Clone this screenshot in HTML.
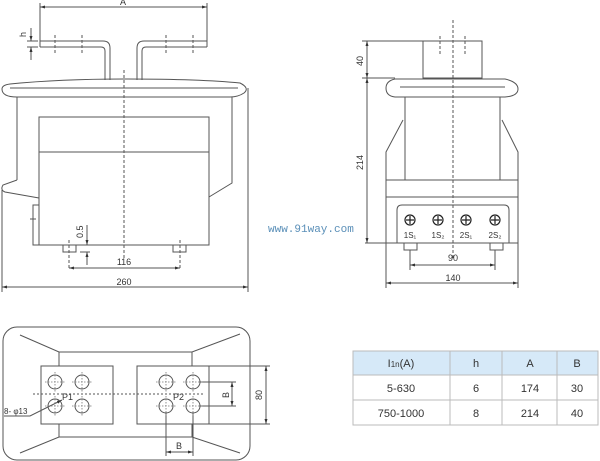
<!DOCTYPE html>
<html><head><meta charset="utf-8"><style>
html,body{margin:0;padding:0;background:#fff;}
svg{display:block;font-family:"Liberation Sans",sans-serif;}
</style></head><body>
<svg width="600" height="461" viewBox="0 0 600 461" xmlns="http://www.w3.org/2000/svg">
<defs>
<marker id="ar" viewBox="0 0 10 10" refX="10" refY="5" markerWidth="7" markerHeight="5" orient="auto-start-reverse"><path d="M0,2 L10,5 L0,8 z" fill="#333"/></marker>
<g id="hole"><circle r="7" fill="none" stroke="#555"/><path d="M-10,0H10M0,-10V10" stroke="#777" stroke-width="0.8" stroke-dasharray="1.5,1.5"/></g>
</defs>
<g stroke="#555" stroke-width="1" fill="none">
<line x1="40" y1="3" x2="40" y2="47"/><line x1="207" y1="3" x2="207" y2="47"/>
<line x1="40" y1="7" x2="207" y2="7" marker-start="url(#ar)" marker-end="url(#ar)"/>
<path d="M40,41 H103 Q110,41 110,48 V80 M40,47 H101 Q105,47 105,51 V80"/>
<path d="M207,41 H144 Q137,41 137,48 V80 M207,47 H146 Q142,47 142,51 V80"/>
<g stroke-dasharray="3,2"><line x1="55" y1="35" x2="55" y2="53"/><line x1="82" y1="35" x2="82" y2="53"/><line x1="166" y1="35" x2="166" y2="53"/><line x1="193" y1="35" x2="193" y2="53"/></g>
<line x1="27" y1="41" x2="38" y2="41"/><line x1="27" y1="47" x2="38" y2="47"/>
<line x1="31" y1="28" x2="31" y2="41" marker-end="url(#ar)"/><line x1="31" y1="60" x2="31" y2="47" marker-end="url(#ar)"/>
<path d="M10,84 Q60,79 124,79 Q200,79 240,83 Q250,88 244,93 Q238,97 230,97 H17 Q2,97 2,89 Q2,85 10,84 Z"/>
<line x1="10" y1="88" x2="238" y2="88"/>
<path d="M17,97 V180 M232,97 V183 L209,197"/>
<path d="M17,180 L3,185 Q0,190 5,192 L39,198"/>
<rect x="39" y="117" width="170" height="128"/>
<line x1="39" y1="152" x2="209" y2="152"/>
<path d="M39,205 H33 V245 H39 M30,219 H36"/>
<rect x="63" y="245" width="13" height="7"/><rect x="173" y="245" width="13" height="7"/>
<line x1="124" y1="70" x2="124" y2="258" stroke-dasharray="3,2"/>
<line x1="69" y1="240" x2="69" y2="270" stroke-dasharray="3,2"/><line x1="180" y1="240" x2="180" y2="270" stroke-dasharray="3,2"/>
<line x1="69" y1="268" x2="180" y2="268" marker-start="url(#ar)" marker-end="url(#ar)"/>
<line x1="87" y1="225" x2="87" y2="245" marker-end="url(#ar)"/><line x1="87" y1="265" x2="87" y2="252" marker-end="url(#ar)"/>
<line x1="80" y1="252" x2="90" y2="252"/>
<line x1="2" y1="190" x2="2" y2="292"/><line x1="248" y1="88" x2="248" y2="292"/>
<line x1="2" y1="287" x2="248" y2="287" marker-start="url(#ar)" marker-end="url(#ar)"/>
<rect x="423" y="41" width="59" height="37"/>
<g stroke-dasharray="3,2"><line x1="440" y1="36" x2="440" y2="55"/><line x1="465" y1="36" x2="465" y2="55"/></g>
<path d="M395,79 H505 Q518,82 518,89 Q518,96 505,97 H395 Q386,96 386,88 Q386,81 395,79 Z"/>
<line x1="400" y1="87" x2="505" y2="87"/>
<path d="M405,97 V180 M500,97 V180"/>
<path d="M403,120 L386,152 V243 M502,120 L518,152 V243"/>
<line x1="386" y1="180" x2="518" y2="180"/><line x1="386" y1="197" x2="518" y2="197"/>
<path d="M402,205 H504 Q509,205 509,210 V243 H397 V210 Q397,205 402,205 Z"/>
<line x1="365" y1="243" x2="518" y2="243"/>
<rect x="404" y="243" width="13" height="7"/><rect x="490" y="243" width="13" height="7"/>
<line x1="453" y1="20" x2="453" y2="258" stroke-dasharray="3,2"/>
<line x1="362" y1="41" x2="423" y2="41"/><line x1="362" y1="78" x2="395" y2="78"/>
<line x1="367" y1="41" x2="367" y2="78" marker-start="url(#ar)" marker-end="url(#ar)"/>
<line x1="367" y1="78" x2="367" y2="243" marker-start="url(#ar)" marker-end="url(#ar)"/>
<line x1="410" y1="250" x2="410" y2="270"/><line x1="495" y1="250" x2="495" y2="270"/>
<line x1="410" y1="265" x2="495" y2="265" marker-start="url(#ar)" marker-end="url(#ar)"/>
<line x1="386" y1="243" x2="386" y2="288"/><line x1="518" y1="243" x2="518" y2="288"/>
<line x1="386" y1="283" x2="518" y2="283" marker-start="url(#ar)" marker-end="url(#ar)"/>
<rect x="3" y="327" width="247" height="133" rx="14"/>
<path d="M20,335 L59,352 H192 L240,334 M20,453 L59,437 H192 L240,453"/>
<path d="M59,352 V366 M192,352 V366 M59,424 V437 M192,424 V437"/>
<rect x="41" y="366" width="72" height="58"/><rect x="137" y="366" width="72" height="58"/>
<line x1="33" y1="394" x2="204" y2="394" stroke-dasharray="2,2"/>
<line x1="209" y1="366" x2="270" y2="366"/><line x1="209" y1="424" x2="270" y2="424"/>
<line x1="266" y1="366" x2="266" y2="424" marker-start="url(#ar)" marker-end="url(#ar)"/>
<line x1="200" y1="382" x2="236" y2="382"/><line x1="200" y1="406" x2="236" y2="406"/>
<line x1="232" y1="382" x2="232" y2="406" marker-start="url(#ar)" marker-end="url(#ar)"/>
<line x1="166" y1="413" x2="166" y2="456"/><line x1="193" y1="413" x2="193" y2="456"/>
<line x1="166" y1="452" x2="193" y2="452" marker-start="url(#ar)" marker-end="url(#ar)"/>
<path d="M4,416 H30 L62,400" marker-end="url(#ar)"/>
</g>
<use href="#hole" x="55" y="382"/><use href="#hole" x="82" y="382"/><use href="#hole" x="55" y="406"/><use href="#hole" x="82" y="406"/>
<use href="#hole" x="166" y="382"/><use href="#hole" x="193" y="382"/><use href="#hole" x="166" y="406"/><use href="#hole" x="193" y="406"/>
<g stroke="#222" stroke-width="1.2">
<circle cx="410" cy="220" r="5" fill="none"/><path d="M406,220H414M410,216V224"/>
<circle cx="438" cy="220" r="5" fill="none"/><path d="M434,220H442M438,216V224"/>
<circle cx="466" cy="220" r="5" fill="none"/><path d="M462,220H470M466,216V224"/>
<circle cx="495" cy="220" r="5" fill="none"/><path d="M491,220H499M495,216V224"/>
</g>
<g fill="#333" font-size="9">
<text x="123" y="5" text-anchor="middle">A</text>
<text x="124" y="265" text-anchor="middle">116</text>
<text x="124" y="285" text-anchor="middle">260</text>
<text transform="translate(26,37) rotate(-90)">h</text>
<text transform="translate(83,238) rotate(-90)">0.5</text>
<text x="453" y="261" text-anchor="middle">90</text>
<text x="453" y="281" text-anchor="middle">140</text>
<text transform="translate(363,66) rotate(-90)">40</text>
<text transform="translate(363,170) rotate(-90)">214</text>
<text x="410" y="238" text-anchor="middle" font-size="8">1S₁</text>
<text x="438" y="238" text-anchor="middle" font-size="8">1S₂</text>
<text x="466" y="238" text-anchor="middle" font-size="8">2S₁</text>
<text x="495" y="238" text-anchor="middle" font-size="8">2S₂</text>
<text x="62" y="400">P1</text>
<text x="173" y="400">P2</text>
<text x="4" y="414" font-size="8">8- φ13</text>
<text transform="translate(262,400) rotate(-90)">80</text>
<text transform="translate(229,398) rotate(-90)">B</text>
<text x="176" y="449">B</text>
<text x="268" y="232" fill="#5a8fb8" font-size="11" font-family="Liberation Mono,monospace">www.91way.com</text>
</g>
<rect x="353" y="351" width="245" height="24" fill="#d6e9f8"/>
<g stroke="#bbb" fill="none">
<rect x="353" y="351" width="245" height="74"/>
<line x1="353" y1="375" x2="598" y2="375"/><line x1="353" y1="400" x2="598" y2="400"/>
<line x1="450" y1="351" x2="450" y2="425"/><line x1="502" y1="351" x2="502" y2="425"/><line x1="557" y1="351" x2="557" y2="425"/>
</g>
<g fill="#333" font-size="11" text-anchor="middle">
<text x="401" y="367">I<tspan font-size="8">1n</tspan>(A)</text>
<text x="476" y="367">h</text><text x="530" y="367">A</text><text x="577" y="367">B</text>
<text x="401" y="392">5-630</text><text x="476" y="392">6</text><text x="530" y="392">174</text><text x="577" y="392">30</text>
<text x="401" y="417">750-1000</text><text x="476" y="417">8</text><text x="530" y="417">214</text><text x="577" y="417">40</text>
</g>
</svg>
</body></html>
